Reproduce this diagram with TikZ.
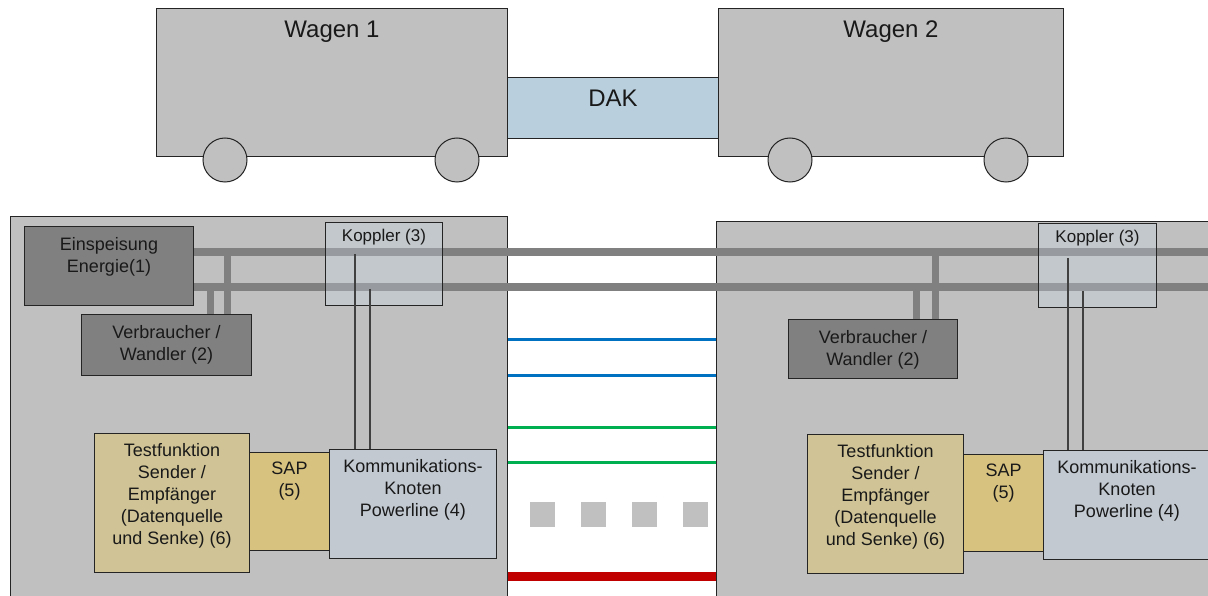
\documentclass[tikz,border=0pt]{standalone}
\usepackage{fontspec}
\setmainfont{Liberation Sans}
\definecolor{wagon}{RGB}{192,192,192}
\definecolor{power}{RGB}{128,128,128}
\definecolor{edge}{RGB}{36,36,36}
\definecolor{dakblue}{RGB}{185,207,221}
\definecolor{koppblue}{RGB}{205,220,235}
\definecolor{knotblue}{RGB}{194,201,209}
\definecolor{testtan}{RGB}{208,196,150}
\definecolor{saptan}{RGB}{215,194,128}
\definecolor{datablue}{RGB}{0,112,192}
\definecolor{datagreen}{RGB}{0,176,80}
\definecolor{datared}{RGB}{192,0,0}
\tikzset{
  box/.style={draw=edge, line width=1pt, anchor=north west, inner sep=0pt},
  boxtext/.style={anchor=north, align=center, inner sep=0pt, yshift=-10pt,
    text=black!90, font=\fontsize{18}{22}\selectfont},
  bigtext/.style={boxtext, font=\fontsize{24}{28}\selectfont},
  wheel/.style={circle, draw=edge, line width=1pt, fill=wagon, minimum size=44pt, inner sep=0pt},
  bus/.style={power, line width=8pt},
  stub/.style={power, line width=7pt},
  wire/.style={black!75, line width=1.2pt},
}
\begin{document}
\begin{tikzpicture}[x=1pt,y=-1pt]
\clip (0,0) rectangle (1208,596);
\fill[white] (0,0) rectangle (1208,596);
% wagons and coupling
\node[box, fill=dakblue, minimum width=211pt, minimum height=61pt,
  label={[bigtext, yshift=-3pt]north:DAK}] (dak) at (507,77) {};
\node[box, fill=wagon, minimum width=351pt, minimum height=148pt,
  label={[bigtext, yshift=-3pt]north:Wagen 1}] (wagen1) at (156,8) {};
\node[box, fill=wagon, minimum width=345pt, minimum height=148pt,
  label={[bigtext, yshift=-3pt]north:Wagen 2}] (wagen2) at (718,8) {};
\foreach \x [count=\i] in {225,457,790,1006}
  \node[wheel] (rad\i) at (\x,160) {};
% vehicle internals
\node[box, fill=wagon, minimum width=497pt, minimum height=400pt] (innen1) at (10,216) {};
\node[box, fill=wagon, minimum width=500pt, minimum height=400pt] (innen2) at (716,221) {};
\foreach \y/\c/\w in {339/datablue/3,375/datablue/3,427/datagreen/3,462/datagreen/3,576/datared/9}
  \draw[\c, line width=\w pt] (innen1.east |- 0,\y) -- (innen2.west |- 0,\y);
\foreach \x [count=\i] in {530,581,632,683}
  \node[anchor=north west, fill=wagon, minimum size=25pt, inner sep=0pt] (punkt\i) at (\x,502) {};
\node[box, fill=power, minimum width=169pt, minimum height=79pt,
  label={[boxtext, yshift=-1pt]north:{Einspeisung\\Energie(1)}}] (einsp) at (24,226) {};
\node[box, fill=power, minimum width=170pt, minimum height=61pt,
  label={[boxtext, yshift=-1pt]north:{Verbraucher /\\Wandler (2)}}] (verb1) at (81,314) {};
\node[box, fill=power, minimum width=169pt, minimum height=59pt,
  label={[boxtext, yshift=-1pt]north:{Verbraucher /\\Wandler (2)}}] (verb2) at (788,319) {};
\draw[bus] (einsp.east |- 0,252) -- (innen2.east |- 0,252);
\draw[bus] (einsp.east |- 0,287) -- (innen2.east |- 0,287);
\draw[stub] ([xshift=146pt]verb1.north west) -- +(0,-62);
\draw[stub] ([xshift=129pt]verb1.north west) -- +(0,-27);
\draw[stub] ([xshift=147pt]verb2.north west) -- +(0,-67);
\draw[stub] ([xshift=128pt]verb2.north west) -- +(0,-32);
\node[box, fill=koppblue, fill opacity=0.3, minimum width=117pt, minimum height=83pt,
  label={[boxtext, yshift=3pt, font=\fontsize{17}{20}\selectfont]north:Koppler (3)}] (kop1) at (325,222) {};
\node[box, fill=koppblue, fill opacity=0.3, minimum width=118pt, minimum height=84pt,
  label={[boxtext, yshift=3pt, font=\fontsize{17}{20}\selectfont]north:Koppler (3)}] (kop2) at (1038,223) {};
% data path
\node[box, fill=testtan, minimum width=155pt, minimum height=139pt,
  label={[boxtext]north:{Testfunktion\\Sender /\\Empfänger\\(Datenquelle\\und Senke) (6)}}] (test1) at (94,433) {};
\node[box, fill=saptan, minimum width=80pt, minimum height=98pt,
  label={[boxtext]north:{SAP\\(5)}}] (sap1) at (249,452) {};
\node[box, fill=knotblue, minimum width=167pt, minimum height=109pt,
  label={[boxtext]north:{Kommunikations-\\Knoten\\Powerline (4)}}] (komm1) at (329,449) {};
\node[box, fill=testtan, minimum width=156pt, minimum height=139pt,
  label={[boxtext]north:{Testfunktion\\Sender /\\Empfänger\\(Datenquelle\\und Senke) (6)}}] (test2) at (807,434) {};
\node[box, fill=saptan, minimum width=80pt, minimum height=97pt,
  label={[boxtext]north:{SAP\\(5)}}] (sap2) at (963,454) {};
\node[box, fill=knotblue, minimum width=167pt, minimum height=109pt,
  label={[boxtext]north:{Kommunikations-\\Knoten\\Powerline (4)}}] (komm2) at (1043,450) {};
\draw[wire] ([xshift=26pt]komm1.north west) -- +(0,-195);
\draw[wire] ([xshift=41pt]komm1.north west) -- +(0,-160);
\draw[wire] ([xshift=25pt]komm2.north west) -- +(0,-192);
\draw[wire] ([xshift=40pt]komm2.north west) -- +(0,-159);
\end{tikzpicture}
\end{document}
